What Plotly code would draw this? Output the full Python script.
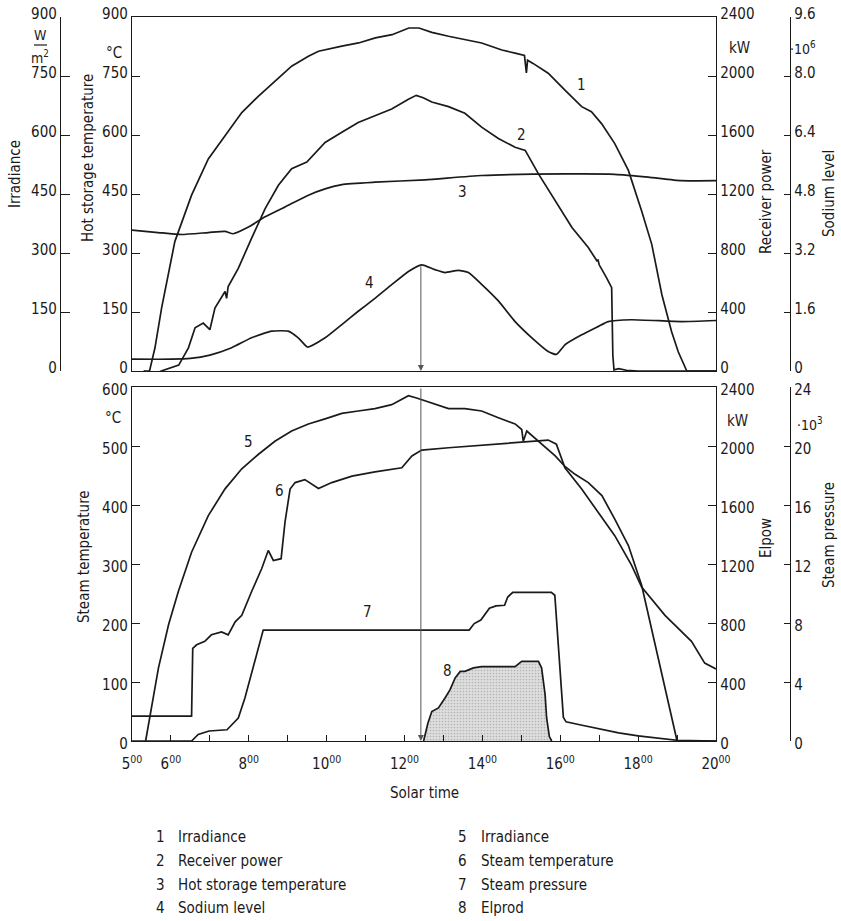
import subprocess
import plotly.graph_objects as go

W, H = 841, 921
INK = "#1a1a1a"


def available_families():
    try:
        out = subprocess.run(["fc-list", ":", "family"], capture_output=True, text=True,
                             timeout=20).stdout
    except Exception:
        return set()
    fams = set()
    for line in out.splitlines():
        for f in line.split(","):
            fams.add(f.strip())
    return fams


FAMS = available_families()
# (family, tick size, title size, legend size)
CANDIDATES = [("Liberation Sans Narrow", 17, 17, 17),
              ("Noto Sans ExtraCondensed", 17, 17, 17),
              ("Noto Sans Condensed", 16, 16, 16),
              ("DejaVu Sans Condensed", 15, 15, 15),
              ("Roboto", 15, 15, 15)]
FONT, TS, TT, LS = "Roboto", 15, 15, 15
for fam, a, b, c in CANDIDATES:
    if fam in FAMS:
        FONT, TS, TT, LS = fam, a, b, c
        break
FONT_STACK = FONT + ", Roboto, sans-serif"

# ---------------- data ----------------
# Top panel
irr1_t = [5.30, 5.45, 5.59, 5.76, 6.10, 6.53, 6.96, 7.39, 7.82, 8.25, 8.67, 9.10, 9.53, 9.79,
          10.39, 10.82, 11.25, 11.68, 12.11, 12.37, 12.70, 13.13, 13.98, 14.50, 14.84, 15.08,
          15.13, 15.16, 15.30, 15.69, 16.12, 16.55, 16.80, 17.06, 17.40, 17.75, 18.09, 18.35,
          18.61, 18.86, 19.03, 19.25, 20.0]
irr1_v = [0, 0, 59, 160, 329, 447, 539, 598, 657, 699, 737, 775, 800, 813,
          826, 834, 847, 855, 872, 872, 861, 851, 834, 816, 808, 802,
          758, 790, 782, 757, 714, 672, 659, 629, 578, 510, 407, 322,
          194, 100, 49, 0, 0]

recv_t = [5.30, 5.45, 5.60, 5.75, 6.20, 6.45, 6.62, 6.83, 7.00, 7.13, 7.39, 7.43, 7.47, 7.73,
          8.07, 8.42, 8.76, 9.10, 9.49, 9.96, 10.39, 10.81, 11.24, 11.67, 12.10, 12.30, 12.48,
          12.70, 13.13, 13.55, 13.98, 14.41, 14.84, 15.10, 15.44, 15.87, 16.30, 16.72, 16.94,
          16.97, 17.00, 17.19, 17.32, 17.35, 17.38, 17.50, 17.70, 18.00, 20.0]
recv_kw = [0, -21, -21, 0, 40, 157, 293, 325, 280, 427, 539, 493, 573, 696,
           899, 1101, 1259, 1371, 1416, 1549, 1619, 1685, 1731, 1776, 1843, 1869, 1853,
           1824, 1792, 1747, 1653, 1576, 1517, 1496, 1336, 1155, 973, 837, 747,
           752, 720, 632, 565, 107, 8, 16, 5, 0, 0]

hst_t = [5.0, 5.67, 6.27, 6.96, 7.39, 7.60, 7.99, 8.42, 8.93, 9.53, 9.96, 10.39, 11.24,
         12.53, 13.98, 16.12, 17.40, 18.26, 19.11, 20.0]
hst_c = [358, 352, 347, 352, 355, 349, 366, 392, 417, 447, 463, 474, 480,
         486, 497, 501, 500, 493, 484, 484]

sod_t = [5.0, 6.0, 6.5, 7.0, 7.56, 8.07, 8.59, 9.01, 9.27, 9.51, 9.96, 10.39, 10.81, 11.24,
         11.67, 12.10, 12.44, 12.78, 13.04, 13.38, 13.64, 13.98, 14.41, 14.84, 15.27, 15.69,
         15.90, 16.12, 16.55, 16.98, 17.23, 17.83, 19.11, 20.0]
sod_v = [0.32, 0.32, 0.34, 0.43, 0.63, 0.90, 1.08, 1.08, 0.90, 0.65, 0.90, 1.26, 1.62, 1.97,
         2.34, 2.70, 2.88, 2.75, 2.67, 2.73, 2.67, 2.35, 1.90, 1.34, 0.90, 0.53,
         0.45, 0.71, 0.98, 1.21, 1.34, 1.39, 1.34, 1.37]

# Bottom panel
irr5_t = [5.35, 5.46, 5.68, 5.94, 6.19, 6.53, 6.96, 7.39, 7.82, 8.25, 8.67, 9.10, 9.53, 9.96,
          10.39, 10.81, 11.24, 11.67, 12.10, 12.31, 12.70, 13.13, 13.55, 13.98, 14.41, 14.84,
          15.01, 15.05, 15.14, 15.40, 15.87, 16.12, 16.38, 16.72, 17.07, 17.40, 17.75, 18.09,
          18.44, 18.86, 19.0, 20.0]
irr5_v = [0, 63, 186, 296, 380, 480, 573, 641, 692, 729, 762, 788, 806, 819,
          833, 839, 845, 855, 878, 872, 860, 845, 845, 839, 822, 806,
          792, 762, 788, 765, 725, 698, 678, 657, 624, 564, 497, 396,
          245, 59, 0, 0]

stt_t = [5.0, 6.53, 6.56, 6.66, 6.87, 7.04, 7.30, 7.47, 7.65, 7.82, 8.07, 8.33, 8.50, 8.63,
         8.83, 8.93, 9.06, 9.19, 9.44, 9.79, 10.13, 10.65, 11.24, 11.93, 12.19, 12.44, 13.13,
         13.98, 15.01, 15.69, 15.90, 16.03, 16.12, 16.55, 16.98, 17.40, 17.83, 18.09, 18.69,
         19.37, 19.71, 20.0]
stt_c = [42, 42, 157, 163, 169, 180, 185, 180, 202, 213, 253, 292, 323, 306,
         309, 371, 427, 438, 443, 428, 438, 449, 456, 463, 483, 493, 497,
         501, 507, 510, 503, 478, 463, 427, 388, 348, 298, 261, 213,
         169, 132, 122]

stp_t = [5.0, 6.53, 6.70, 6.98, 7.44, 7.73, 7.90, 8.16, 8.37, 13.66, 13.79, 13.96, 14.18,
         14.35, 14.57, 14.65, 14.78, 15.77, 15.86, 16.08, 16.15, 16.5, 17.0, 17.5, 18.0,
         18.5, 19.0, 20.0]
stp_v = [0, 0, 0.44, 0.68, 0.76, 1.56, 2.92, 5.40, 7.52, 7.52, 7.96, 8.20, 9.00,
         9.16, 9.20, 9.76, 10.08, 10.08, 9.88, 1.60, 1.30, 1.10, 0.80, 0.55, 0.35,
         0.18, 0.05, 0]

elp_t = [12.49, 12.60, 12.70, 12.87, 13.04, 13.17, 13.30, 13.43, 13.55, 13.77, 13.98, 14.84,
         15.01, 15.44, 15.52, 15.61, 15.65, 15.72, 15.78]
elp_kw = [0, 120, 200, 224, 292, 348, 428, 472, 472, 496, 504, 504,
          540, 540, 496, 316, 156, 30, 0]

arrow_t = 12.42
sodium_peak_c = 270  # curve 4 peak on the 0-900 scale

x_tickvals = [5, 6, 8, 10, 12, 14, 16, 18, 20]
x_ticktext = ["5<sup>00</sup>", "6<sup>00</sup>", "8<sup>00</sup>", "10<sup>00</sup>",
              "12<sup>00</sup>", "14<sup>00</sup>", "16<sup>00</sup>", "18<sup>00</sup>",
              "20<sup>00</sup>"]

legend_left = [("1", "Irradiance"), ("2", "Receiver power"),
               ("3", "Hot storage temperature"), ("4", "Sodium level")]
legend_right = [("5", "Irradiance"), ("6", "Steam temperature"),
                ("7", "Steam pressure"), ("8", "Elprod")]

# ---------------- layout geometry (pixels) ----------------
X0, X1 = 132, 716
TOP = (17, 371)
BOT = (387, 741)


def fx(p):
    return p / W


def fy(p):
    return 1 - p / H


fig = go.Figure()
lw = dict(color=INK, width=1.7)
lws = dict(color=INK, width=1.7, shape="spline", smoothing=0.5)

fig.add_trace(go.Scatter(x=irr1_t, y=irr1_v, xaxis="x", yaxis="y2", mode="lines", line=lw))
fig.add_trace(go.Scatter(x=recv_t, y=recv_kw, xaxis="x", yaxis="y3", mode="lines", line=lw))
fig.add_trace(go.Scatter(x=hst_t, y=hst_c, xaxis="x", yaxis="y", mode="lines", line=lws))
fig.add_trace(go.Scatter(x=sod_t, y=sod_v, xaxis="x", yaxis="y4", mode="lines", line=lws))

fig.add_trace(go.Scatter(x=elp_t, y=elp_kw, xaxis="x2", yaxis="y6", mode="lines", line=lw,
                         fill="tozeroy", fillcolor="#d4d4d4",
                         fillpattern=dict(shape=".", fgcolor="#8a8a8a", bgcolor="#dedede",
                                          size=3, solidity=0.25)))
fig.add_trace(go.Scatter(x=irr5_t, y=irr5_v, xaxis="x2", yaxis="y8", mode="lines", line=lw))
fig.add_trace(go.Scatter(x=stt_t, y=stt_c, xaxis="x2", yaxis="y5", mode="lines", line=lw))
fig.add_trace(go.Scatter(x=stp_t, y=stp_v, xaxis="x2", yaxis="y7", mode="lines", line=lw))

tf = dict(family=FONT_STACK, size=TS, color=INK)
common = dict(showline=True, linecolor=INK, linewidth=1.3, ticks="inside", ticklen=8,
              tickwidth=1.3, tickcolor=INK, showgrid=False, zeroline=False, tickfont=tf,
              automargin=False, fixedrange=True)
up = dict(ticklabelshift=-3)   # top-panel labels nudged up
down = dict(ticklabelshift=3)  # bottom-panel labels nudged down

top_dom = [fy(TOP[1]), fy(TOP[0])]
bot_dom = [fy(BOT[1]), fy(BOT[0])]
xdom = [fx(X0), fx(X1)]

layout = dict(
    width=W, height=H, margin=dict(l=0, r=0, t=0, b=0),
    paper_bgcolor="white", plot_bgcolor="white", showlegend=False,
    font=dict(family=FONT_STACK, size=TS, color=INK),
    xaxis=dict(common, domain=xdom, anchor="y", range=[5, 20], mirror=True, ticks="",
               showticklabels=False),
    yaxis=dict(common, **up, domain=top_dom, anchor="x", range=[0, 900],
               tickvals=[0, 150, 300, 450, 600, 750, 900]),
    yaxis2=dict(common, **up, overlaying="y", anchor="free", position=fx(60), side="left",
                range=[0, 900], tickvals=[0, 150, 300, 450, 600, 750, 900], ticklen=9),
    yaxis3=dict(common, **up, overlaying="y", anchor="x", side="right", range=[0, 2400],
                tickvals=[0, 400, 800, 1200, 1600, 2000, 2400]),
    yaxis4=dict(common, **up, overlaying="y", anchor="free", position=fx(790), side="right",
                range=[0, 9.6], tickvals=[0, 1.6, 3.2, 4.8, 6.4, 8.0, 9.6],
                ticktext=["0", "1.6", "3.2", "4.8", "6.4", "8.0", "9.6"], ticklen=6),
    xaxis2=dict(common, domain=xdom, anchor="y5", range=[5, 20], mirror=True, ticklen=6,
                tickvals=x_tickvals, ticktext=x_ticktext, ticklabelstandoff=9,
                minor=dict(ticks="inside", dtick=1, tick0=5, ticklen=6, tickwidth=1.2,
                           tickcolor=INK, showgrid=False)),
    yaxis5=dict(common, **down, domain=bot_dom, anchor="x2", range=[0, 600],
                tickvals=[0, 100, 200, 300, 400, 500, 600]),
    yaxis6=dict(common, **down, overlaying="y5", anchor="x2", side="right", range=[0, 2400],
                tickvals=[0, 400, 800, 1200, 1600, 2000, 2400]),
    yaxis7=dict(common, **down, overlaying="y5", anchor="free", position=fx(790), side="right",
                range=[0, 24], tickvals=[0, 4, 8, 12, 16, 20, 24], ticklen=6),
    yaxis8=dict(overlaying="y5", anchor="x2", range=[0, 900], visible=False, fixedrange=True),
)
fig.update_layout(**layout)

ann = []


def text(x, y, s, size, angle=0, xanchor="center", yanchor="middle"):
    ann.append(dict(x=fx(x), y=fy(y), xref="paper", yref="paper", text=s, showarrow=False,
                    textangle=angle, xanchor=xanchor, yanchor=yanchor,
                    font=dict(family=FONT_STACK, size=size, color=INK)))


# unit labels
text(40, 35, "W", TS - 1)
text(40, 57, "m<sup>2</sup>", TS - 1)
text(114, 53, "°C", TS)
text(739, 48, "kW", TS)
text(803, 48, "·10<sup>6</sup>", TS - 1)
text(113, 418, "°C", TS)
text(737, 421, "kW", TS)
text(810, 424, "·10<sup>3</sup>", TS - 1)
fig.add_shape(type="line", xref="paper", yref="paper", x0=fx(34), x1=fx(47), y0=fy(45),
              y1=fy(45), line=dict(color=INK, width=1.2))

# axis titles
text(15, 174, "Irradiance", TT, -90)
text(88, 158, "Hot storage temperature", TT, -90)
text(766, 202, "Receiver power", TT, -90)
text(829, 194, "Sodium level", TT, -90)
text(84, 557, "Steam temperature", TT, -90)
text(766, 538, "Elpow", TT, -90)
text(829, 535, "Steam pressure", TT, -90)
text((X0 + X1) / 2, 793, "Solar time", TT)

# legend
rows = [837, 861, 885, 908]
for (n, s), r in zip(legend_left, rows):
    text(160, r, n, LS)
    text(176, r, s, LS, xanchor="left")
for (n, s), r in zip(legend_right, rows):
    text(463, r, n, LS)
    text(479, r, s, LS, xanchor="left")

# curve numbers
for lab, t, v in [("1", 16.55, 727), ("2", 15.0, 599), ("3", 13.5, 455), ("4", 11.11, 223)]:
    ann.append(dict(x=t, y=v, xref="x", yref="y", text=lab, showarrow=False,
                    font=dict(family=FONT_STACK, size=TT, color=INK)))
for lab, t, v in [("5", 8.0, 506), ("6", 8.79, 424), ("7", 11.06, 219), ("8", 13.1, 118)]:
    ann.append(dict(x=t, y=v, xref="x2", yref="y5", text=lab, showarrow=False,
                    font=dict(family=FONT_STACK, size=TT, color=INK)))

# vertical arrows at the time marker
ann.append(dict(x=arrow_t, y=0, xref="x", yref="y", ax=arrow_t, ay=sodium_peak_c,
                axref="x", ayref="y", showarrow=True, arrowhead=2, arrowsize=1.2,
                arrowwidth=1, arrowcolor="#555555", text=""))
ann.append(dict(x=arrow_t, y=0, xref="x2", yref="y5", ax=arrow_t, ay=600,
                axref="x2", ayref="y5", showarrow=True, arrowhead=2, arrowsize=1.2,
                arrowwidth=1, arrowcolor="#555555", text=""))

fig.update_layout(annotations=ann)
fig.write_html("out.html", config={"displayModeBar": False},
               post_script="document.body.style.margin='0px';")
